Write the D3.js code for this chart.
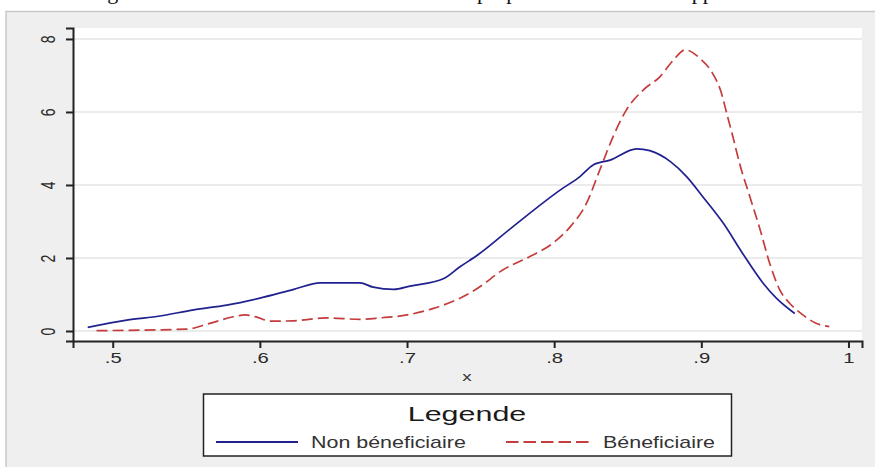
<!DOCTYPE html>
<html>
<head>
<meta charset="utf-8">
<script src="https://cdn.jsdelivr.net/npm/d3@7"></script>
<style>
  body { margin: 0; background: #fff; }
  svg { display: block; }
</style>
</head>
<body>
<div id="chart"></div>
<script>
// values
const xTicks = [0.5, 0.6, 0.7, 0.8, 0.9, 1];
const xTickLabels = [".5", ".6", ".7", ".8", ".9", "1"];
const yTicks = [0, 2, 4, 6, 8];
const seriesNames = ["Non béneficiaire", "Béneficiaire"];
const titleParts = ["Figure 2 : Densité des scores de", "propension avant", "appariement"];

const nonBenefX = [0.483, 0.5095, 0.532, 0.555, 0.5775, 0.600, 0.623, 0.641, 0.668, 0.677, 0.691, 0.702, 0.725, 0.736, 0.748, 0.772, 0.804, 0.8175, 0.8265, 0.838, 0.856, 0.865, 0.879, 0.890, 0.901, 0.915, 0.928, 0.942, 0.951, 0.9635];
const nonBenefY = [0.10, 0.30, 0.41, 0.58, 0.71, 0.90, 1.14, 1.32, 1.32, 1.20, 1.14, 1.23, 1.44, 1.76, 2.08, 2.86, 3.86, 4.23, 4.55, 4.68, 4.99, 4.94, 4.64, 4.23, 3.68, 2.95, 2.13, 1.31, 0.90, 0.48];

const benefX = [0.489, 0.550, 0.566, 0.582, 0.590, 0.598, 0.607, 0.623, 0.645, 0.668, 0.682, 0.700, 0.718, 0.736, 0.748, 0.765, 0.7835, 0.799, 0.811, 0.822, 0.831, 0.840, 0.849, 0.8605, 0.872, 0.881, 0.889, 0.899, 0.907, 0.913, 0.918, 0.9216, 0.926, 0.933, 0.940, 0.9465, 0.9534, 0.960, 0.969, 0.978, 0.987];
const benefY = [0.01, 0.05, 0.21, 0.39, 0.44, 0.38, 0.27, 0.28, 0.36, 0.32, 0.36, 0.44, 0.62, 0.90, 1.17, 1.67, 2.04, 2.40, 2.86, 3.50, 4.41, 5.32, 6.05, 6.60, 6.97, 7.42, 7.70, 7.47, 7.10, 6.60, 5.85, 5.30, 4.59, 3.68, 2.77, 1.85, 1.12, 0.76, 0.44, 0.21, 0.12];

const width = 875, height = 467;
const plot = { left: 73, right: 862, top: 28, bottom: 341 };
const stretch = 1.45; // the picture is widened, text too
const blue = "#20208f", red = "#c43c3c";

const svg = d3.select("#chart").append("svg")
  .attr("width", width)
  .attr("height", height);

svg.append("rect").attr("width", width).attr("height", height).attr("fill", "#fff");

// title sits above the top edge, only descenders show (as in the reference)
const title = svg.append("text")
  .attr("y", -1)
  .attr("font-family", "Liberation Serif")
  .attr("font-size", 22)
  .attr("fill", "#111");
[89, 477, 682].forEach((px, i) => {
  title.append("tspan").attr("x", px).text(titleParts[i]);
});

// grey panel
svg.append("rect")
  .attr("x", 6).attr("y", 11.5)
  .attr("width", width).attr("height", height)
  .attr("fill", "#efefef")
  .attr("stroke", "#c9c9c9")
  .attr("stroke-width", 1.5);

svg.append("rect")
  .attr("x", plot.left).attr("y", plot.top)
  .attr("width", plot.right - plot.left).attr("height", plot.bottom - plot.top)
  .attr("fill", "#fff");

const x = d3.scaleLinear().domain([0.473, 1.0092]).range([plot.left, plot.right]);
const y = d3.scaleLinear().domain([-0.274, 8.3]).range([plot.bottom, plot.top]);

// gridlines
svg.append("g")
  .selectAll("line")
  .data(yTicks)
  .join("line")
  .attr("x1", plot.left).attr("x2", plot.right)
  .attr("y1", d => y(d)).attr("y2", d => y(d))
  .attr("stroke", "#e4e4e4")
  .attr("stroke-width", 1.5);

// axes
const xAxis = svg.append("g")
  .attr("transform", `translate(0,${plot.bottom})`)
  .call(d3.axisBottom(x).tickValues(xTicks).tickSizeOuter(0).tickSize(7)
    .tickFormat((d, i) => xTickLabels[i]));
xAxis.select(".domain").attr("stroke", "#222").attr("stroke-width", 2);
xAxis.selectAll(".tick line").attr("stroke", "#222").attr("stroke-width", 2);
xAxis.selectAll(".tick text")
  .attr("y", 22)
  .attr("dy", 0)
  .attr("transform", `scale(${stretch},1)`)
  .attr("font-family", "Liberation Sans")
  .attr("font-size", 14)
  .attr("fill", "#2a2a2a");

const yAxis = svg.append("g")
  .attr("transform", `translate(${plot.left},0)`)
  .call(d3.axisLeft(y).tickValues(yTicks).tickSizeOuter(0).tickSize(7));
yAxis.select(".domain").attr("stroke", "#222").attr("stroke-width", 2);
yAxis.selectAll(".tick line").attr("stroke", "#222").attr("stroke-width", 2);
yAxis.selectAll(".tick text")
  .attr("x", 0).attr("y", 0).attr("dy", "0.36em")
  .attr("text-anchor", "middle")
  .attr("transform", `translate(-25,0) scale(${stretch},1) rotate(-90)`)
  .attr("font-family", "Liberation Sans")
  .attr("font-size", 14)
  .attr("fill", "#2a2a2a");

svg.append("text")
  .attr("transform", `translate(467,381) scale(${stretch},1)`)
  .attr("text-anchor", "middle")
  .attr("font-family", "Liberation Sans")
  .attr("font-size", 13)
  .attr("fill", "#333")
  .text("x");

// curves
const line = d3.line()
  .x(d => x(d[0]))
  .y(d => y(d[1]))
  .curve(d3.curveMonotoneX);

svg.append("path")
  .datum(nonBenefX.map((v, i) => [v, nonBenefY[i]]))
  .attr("fill", "none")
  .attr("stroke", blue)
  .attr("stroke-width", 1.7)
  .attr("d", line);

svg.append("path")
  .datum(benefX.map((v, i) => [v, benefY[i]]))
  .attr("fill", "none")
  .attr("stroke", red)
  .attr("stroke-width", 1.7)
  .attr("stroke-dasharray", "11,5")
  .attr("d", line);

// legend
const legend = svg.append("g");
legend.append("rect")
  .attr("x", 203.5).attr("y", 394)
  .attr("width", 528).attr("height", 62)
  .attr("fill", "#fff")
  .attr("stroke", "#222")
  .attr("stroke-width", 1.5);
legend.append("text")
  .attr("transform", `translate(467,421) scale(${stretch},1)`)
  .attr("text-anchor", "middle")
  .attr("font-family", "Liberation Sans")
  .attr("font-size", 21)
  .attr("fill", "#1a1a1a")
  .text("Legende");

const items = [
  { name: seriesNames[0], color: blue, dash: null, x0: 216, x1: 298, tx: 311 },
  { name: seriesNames[1], color: red, dash: "12.5,5", x0: 506, x1: 589, tx: 603 }
];
items.forEach(it => {
  legend.append("line")
    .attr("x1", it.x0).attr("x2", it.x1)
    .attr("y1", 442).attr("y2", 442)
    .attr("stroke", it.color)
    .attr("stroke-width", 2)
    .attr("stroke-dasharray", it.dash);
  legend.append("text")
    .attr("transform", `translate(${it.tx},448) scale(1.34,1)`)
    .attr("font-family", "Liberation Sans")
    .attr("font-size", 16)
    .attr("fill", "#333")
    .text(it.name);
});
</script>
</body>
</html>
